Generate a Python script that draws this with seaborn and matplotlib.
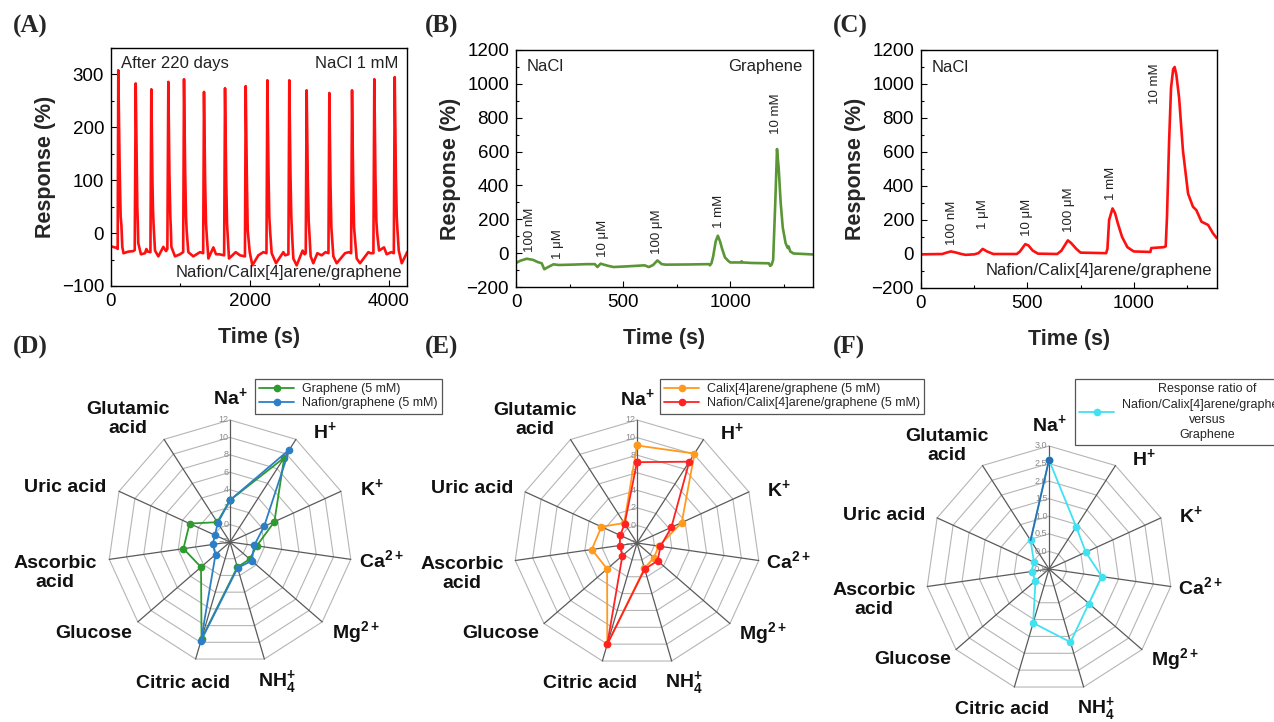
import matplotlib
matplotlib.use("Agg")
import matplotlib.pyplot as plt
import matplotlib.transforms as mtransforms
from matplotlib.ticker import MultipleLocator
import numpy as np
import pandas as pd
import seaborn as sns

sns.set_theme(style="ticks")
plt.rcParams['font.family'] = ['Liberation Sans', 'DejaVu Sans']
plt.rcParams['mathtext.fontset'] = 'custom'
plt.rcParams['mathtext.rm'] = 'Liberation Sans'
plt.rcParams['mathtext.bf'] = 'Liberation Sans:bold'

# ---- (A) long-term repeated response, NaCl 1 mM ----
a_time = [0, 82, 96, 105, 125, 139, 150, 163, 180, 250, 322,
          342, 356, 372, 379, 386, 393, 431, 490, 510, 530, 568,
          581, 597, 605, 614, 634, 682, 754, 793, 812,
          826, 842, 855, 862, 870, 922, 994, 1040,
          1052, 1068, 1081, 1090, 1114, 1186, 1282, 1328,
          1340, 1356, 1369, 1380, 1403, 1475, 1513, 1560, 1630,
          1643, 1660, 1672, 1682, 1700, 1797, 1859, 1930,
          1941, 1958, 1970, 1999, 2037, 2123, 2195, 2240,
          2253, 2270, 2281, 2292, 2315, 2378, 2483, 2510, 2556,
          2569, 2586, 2598, 2608, 2627, 2675, 2761, 2790, 2806,
          2819, 2836, 2848, 2858, 2877, 2915, 2973, 3035, 3090, 3133,
          3146, 3163, 3175, 3204, 3252, 3372, 3430, 3460,
          3473, 3490, 3502, 3540, 3588, 3708, 3740, 3781,
          3794, 3810, 3823, 3835, 3862, 3934, 3972, 4040, 4075,
          4088, 4105, 4117, 4128, 4146, 4189, 4261, 4265]
a_resp = [-25, -28, -30, 308, 120, 31, 15, -26, -38, -35, -34,
          -32, 283, 110, 50, 20, -19, -40, -38, -30, -35, -36,
          272, 100, 44, 15, -33, -44, -26, -34, -30,
          286, 110, 31, 10, -26, -44, -40, -36,
          291, 120, 31, 5, -36, -44, -36, -38,
          267, 100, 18, -5, -48, -27, -40, -40, -42,
          274, 100, 18, -5, -48, -36, -42, -44,
          278, 100, 5, -36, -61, -42, -36, -38,
          289, 110, 31, 5, -38, -57, -36, -42, -40,
          289, 110, 31, 0, -48, -61, -33, -40, -38,
          270, 100, 24, 0, -44, -57, -38, -42, -36, -38,
          265, 90, 11, -44, -57, -38, -36, -38,
          270, 90, 11, -48, -57, -36, -38, -38,
          291, 110, 24, 0, -33, -27, -40, -36, -38,
          295, 110, 31, 5, -33, -57, -38, -36]

# ---- (B) graphene, NaCl steps ----
b_time = [0, 20, 50, 80, 100, 120, 132, 150, 175, 200, 260, 330, 368, 380,
          395, 410, 430, 455, 520, 600, 620, 640, 660, 680, 700, 800, 900,
          905, 912, 920, 932, 942, 952, 962, 975, 990, 1000, 1050, 1053,
          1057, 1100, 1180, 1186, 1193, 1200, 1210, 1218, 1226, 1235, 1245,
          1258, 1268, 1272, 1280, 1295, 1390]
b_resp = [-58, -45, -33, -40, -52, -60, -95, -82, -66, -70, -68, -65, -65, -82,
          -62, -68, -75, -82, -78, -72, -82, -70, -43, -65, -68, -67, -65,
          -72, -60, -20, 70, 103, 70, 25, -25, -45, -55, -55, -48,
          -55, -58, -60, -75, -68, -40, 300, 615, 500, 300, 150,
          60, 30, 40, 10, -2, -8]
b_conc = ["100 nM", "1 μM", "10 μM", "100 μM", "1 mM", "10 mM"]
b_conc_t = [65, 198, 408, 660, 945, 1215]
b_conc_y = [6, -33, -23, -4, 151, 705]

# ---- (C) Nafion/Calix[4]arene/graphene, NaCl steps ----
c_time = [0, 100, 120, 140, 160, 190, 210, 250, 270, 290, 310, 340, 450, 465,
          490, 505, 525, 550, 640, 660, 690, 705, 730, 750, 870, 876, 884,
          900, 912, 925, 945, 970, 1000, 1078, 1082, 1140, 1150, 1156, 1166,
          1175, 1185, 1192, 1200, 1213, 1231, 1255, 1278, 1294, 1318, 1349,
          1372, 1390]
c_resp = [-2, 0, 8, 15, 10, 0, -5, -2, 5, 30, 15, 0, 0, 15,
          58, 50, 20, 2, 0, 20, 80, 65, 30, 8, 5, 30, 200,
          268, 240, 180, 100, 40, 15, 12, 35, 40, 45, 220, 666,
          977, 1087, 1100, 1054, 918, 608, 355, 278, 258, 190, 171,
          122, 93]
c_conc = ["100 nM", "1 μM", "10 μM", "100 μM", "1 mM", "10 mM"]
c_conc_t = [144, 293, 500, 697, 895, 1099]
c_conc_y = [54, 146, 103, 132, 316, 880]

# ---- (D)-(F) selectivity radar ----
categories = ["Na$^{\\mathbf{+}}$", "H$^{\\mathbf{+}}$", "K$^{\\mathbf{+}}$",
              "Ca$^{\\mathbf{2+}}$", "Mg$^{\\mathbf{2+}}$",
              "NH$_{\\mathbf{4}}^{\\mathbf{+}}$", "Citric acid", "Glucose",
              "Ascorbic\nacid", "Uric acid", "Glutamic\nacid"]
graphene = [2.8, 9.5, 3.6, 1.1, 1.0, 1.0, 9.6, 2.4, 3.4, 3.1, 0.7]
nafion_graphene = [2.8, 10.6, 2.3, 0.8, 1.3, 1.1, 9.8, 0.2, 0.0, -0.1, 0.6]
calix_graphene = [9.1, 10.1, 3.6, 0.5, 0.55, 1.0, 10.0, 2.5, 3.2, 2.45, 0.7]
nafion_calix_graphene = [7.2, 9.0, 2.3, 0.7, 1.1, 1.1, 10.0, 0.2, 0.0, 0.1, 0.6]
ratio = [2.6, 0.93, 0.65, 1.02, 1.0, 1.67, 1.1, 0.01, 0.0, -0.03, 0.47]

W, H = 1274, 722
fig = plt.figure(figsize=(W / 100, H / 100), dpi=100)


def px_axes(left, top, width, height, **kw):
    return fig.add_axes([left / W, 1 - (top + height) / H, width / W, height / H], **kw)


def style_trace(ax, xmaj, xmin, ymaj, ymin):
    ax.xaxis.set_major_locator(MultipleLocator(xmaj))
    ax.xaxis.set_minor_locator(MultipleLocator(xmin))
    ax.yaxis.set_major_locator(MultipleLocator(ymaj))
    ax.yaxis.set_minor_locator(MultipleLocator(ymin))
    ax.tick_params(which='both', direction='in', colors='black', labelsize=13.5,
                   pad=5)
    ax.tick_params(which='major', length=4, width=0.8)
    ax.tick_params(which='minor', length=2.5, width=0.8)
    for s in ax.spines.values():
        s.set_color('black')
        s.set_linewidth(1.0)
    ax.set_xlabel("Time (s)", fontsize=15.5, fontweight='bold', labelpad=12)
    ax.set_ylabel("Response (%)", fontsize=15.5, fontweight='bold', labelpad=4)


txt_kw = dict(fontsize=12, color='#222222')

# (A)
axA = px_axes(111, 48, 296, 238)
sns.lineplot(data=pd.DataFrame({"t": a_time, "r": a_resp}), x="t", y="r",
             sort=False, estimator=None, color='#ff1010', lw=1.9, ax=axA)
axA.set_xlim(0, 4265)
axA.set_ylim(-100, 350)
style_trace(axA, 2000, 1000, 100, 50)
axA.text(0.035, 0.965, "After 220 days", transform=axA.transAxes, va='top', ha='left', **txt_kw)
axA.text(0.97, 0.965, "NaCl 1 mM", transform=axA.transAxes, va='top', ha='right', **txt_kw)
axA.text(0.985, 0.025, "Nafion/Calix[4]arene/graphene", transform=axA.transAxes,
         va='bottom', ha='right', **txt_kw)

# (B)
axB = px_axes(516, 50, 297, 237)
sns.lineplot(data=pd.DataFrame({"t": b_time, "r": b_resp}), x="t", y="r",
             sort=False, estimator=None, color='#5a9636', lw=1.9, ax=axB)
axB.set_xlim(0, 1386)
axB.set_ylim(-200, 1200)
style_trace(axB, 500, 250, 200, 100)
axB.text(0.037, 0.96, "NaCl", transform=axB.transAxes, va='top', ha='left', **txt_kw)
axB.text(0.963, 0.96, "Graphene", transform=axB.transAxes, va='top', ha='right', **txt_kw)
for lab, t, y in zip(b_conc, b_conc_t, b_conc_y):
    axB.text(t, y, lab, rotation=90, ha='center', va='bottom', fontsize=9.5, color='#222222')

# (C)
axC = px_axes(921, 50, 296, 238)
sns.lineplot(data=pd.DataFrame({"t": c_time, "r": c_resp}), x="t", y="r",
             sort=False, estimator=None, color='#ff1010', lw=1.9, ax=axC)
axC.set_xlim(0, 1391)
axC.set_ylim(-200, 1200)
style_trace(axC, 500, 250, 200, 100)
axC.text(0.037, 0.96, "NaCl", transform=axC.transAxes, va='top', ha='left', **txt_kw)
axC.text(0.985, 0.04, "Nafion/Calix[4]arene/graphene", transform=axC.transAxes,
         va='bottom', ha='right', **txt_kw)
for lab, t, y in zip(c_conc, c_conc_t, c_conc_y):
    axC.text(t, y, lab, rotation=90, ha='center', va='bottom', fontsize=9.5, color='#222222')

# radar helpers
n_cat = len(categories)
theta = np.linspace(0, 2 * np.pi, n_cat, endpoint=False)
theta_closed = np.append(theta, theta[0])
# label centres, pixel offsets from the radar centre
label_dx = [0, 95, 142, 151, 126, 47, -47, -136, -175, -165, -102]
label_dy = [-144, -110, -53, 19, 91, 141, 141, 91, 31, -54, -123]


def radar_frame(ax, rmin, rmax, step, fmt):
    ax.set_theta_zero_location('N')
    ax.set_theta_direction(-1)
    ax.set_ylim(rmin, rmax)
    ax.grid(False)
    ax.spines['polar'].set_visible(False)
    ax.set_xticks([])
    ax.set_yticks([])
    ax.patch.set_alpha(0)
    levels = np.arange(rmin, rmax + step / 2, step)
    for lev in levels[1:]:
        ax.plot(theta_closed, [lev] * (n_cat + 1), color='#b5b5b5', lw=0.8,
                zorder=1, clip_on=False)
    for th in theta:
        ax.plot([th, th], [rmin, rmax], color='#5a5a5a', lw=0.9, zorder=1.5,
                clip_on=False)
    off = mtransforms.offset_copy(ax.transData, fig=fig, x=-1.5, y=0, units='dots')
    for lev in levels:
        ax.text(0, lev, fmt.format(lev).replace('-', '\u2212'), transform=off,
                ha='right', va='center', fontsize=6.5, color='#8a8a8a', zorder=3)
    for lab, dx, dy in zip(categories, label_dx, label_dy):
        tr = mtransforms.offset_copy(ax.transData, fig=fig, x=dx, y=-dy, units='dots')
        ax.text(0, rmin, lab, transform=tr, ha='center', va='center',
                ma='center', fontsize=14, fontweight='bold', color='#111111')


def radar_line(ax, values, color, label):
    vals = list(values) + [values[0]]
    ax.plot(theta_closed, vals, color=color, lw=1.3, marker='o', ms=4.5,
            markeredgecolor=color, label=label, zorder=4, clip_on=False)


leg_kw = dict(fontsize=9, frameon=True, fancybox=False, edgecolor='#555555',
              handlelength=2.8, handletextpad=0.6, labelspacing=0.15,
              borderpad=0.35, borderaxespad=0, framealpha=1)

# (D)
axD = px_axes(108, 420, 244, 244, projection='polar')
radar_frame(axD, -2, 12, 2, "{:.0f}")
radar_line(axD, graphene, '#2f9a2f', "Graphene (5 mM)")
radar_line(axD, nafion_graphene, '#2c7fc6', "Nafion/graphene (5 mM)")
legD = axD.legend(loc='upper left', bbox_to_anchor=(255 / W, 1 - 379 / H),
                  bbox_transform=fig.transFigure, **leg_kw)
legD.get_frame().set_linewidth(0.9)

# (E)
axE = px_axes(514, 420, 246, 246, projection='polar')
radar_frame(axE, -2, 12, 2, "{:.0f}")
radar_line(axE, calix_graphene, '#ff9a1e', "Calix[4]arene/graphene (5 mM)")
radar_line(axE, nafion_calix_graphene, '#ff2222', "Nafion/Calix[4]arene/graphene (5 mM)")
legE = axE.legend(loc='upper left', bbox_to_anchor=(660 / W, 1 - 379 / H),
                  bbox_transform=fig.transFigure, **leg_kw)
legE.get_frame().set_linewidth(0.9)

# (F)
axF = px_axes(926, 446, 246, 246, projection='polar')
radar_frame(axF, -0.5, 3.0, 0.5, "{:.1f}")
radar_line(axF, ratio, '#40e2f2',
           "Response ratio of\nNafion/Calix[4]arene/graphene\nversus\nGraphene")
axF.plot([theta[-1], 2 * np.pi], [ratio[-1], ratio[0]], color='#2f6db2', lw=1.3, zorder=5)
axF.plot([theta[0]], [ratio[0]], 'o', color='#2f6db2', ms=4.5, zorder=6, clip_on=False)
legF = axF.legend(loc='upper left', bbox_to_anchor=(1075 / W, 1 - 379 / H),
                  bbox_transform=fig.transFigure, **dict(leg_kw, labelspacing=0.3))
legF.get_frame().set_linewidth(0.9)
for t in legF.get_texts():
    t.set_multialignment('center')
    t.set_linespacing(1.35)

# panel letters
for lab, x, y in [("(A)", 13, 26), ("(B)", 425, 26), ("(C)", 833, 26),
                  ("(D)", 13, 347), ("(E)", 425, 347), ("(F)", 833, 347)]:
    fig.text(x / W, 1 - y / H, lab, fontsize=18, fontweight='bold',
             family=['Liberation Serif', 'DejaVu Serif'], ha='left', va='center')

fig.savefig("out.png", dpi=100)
